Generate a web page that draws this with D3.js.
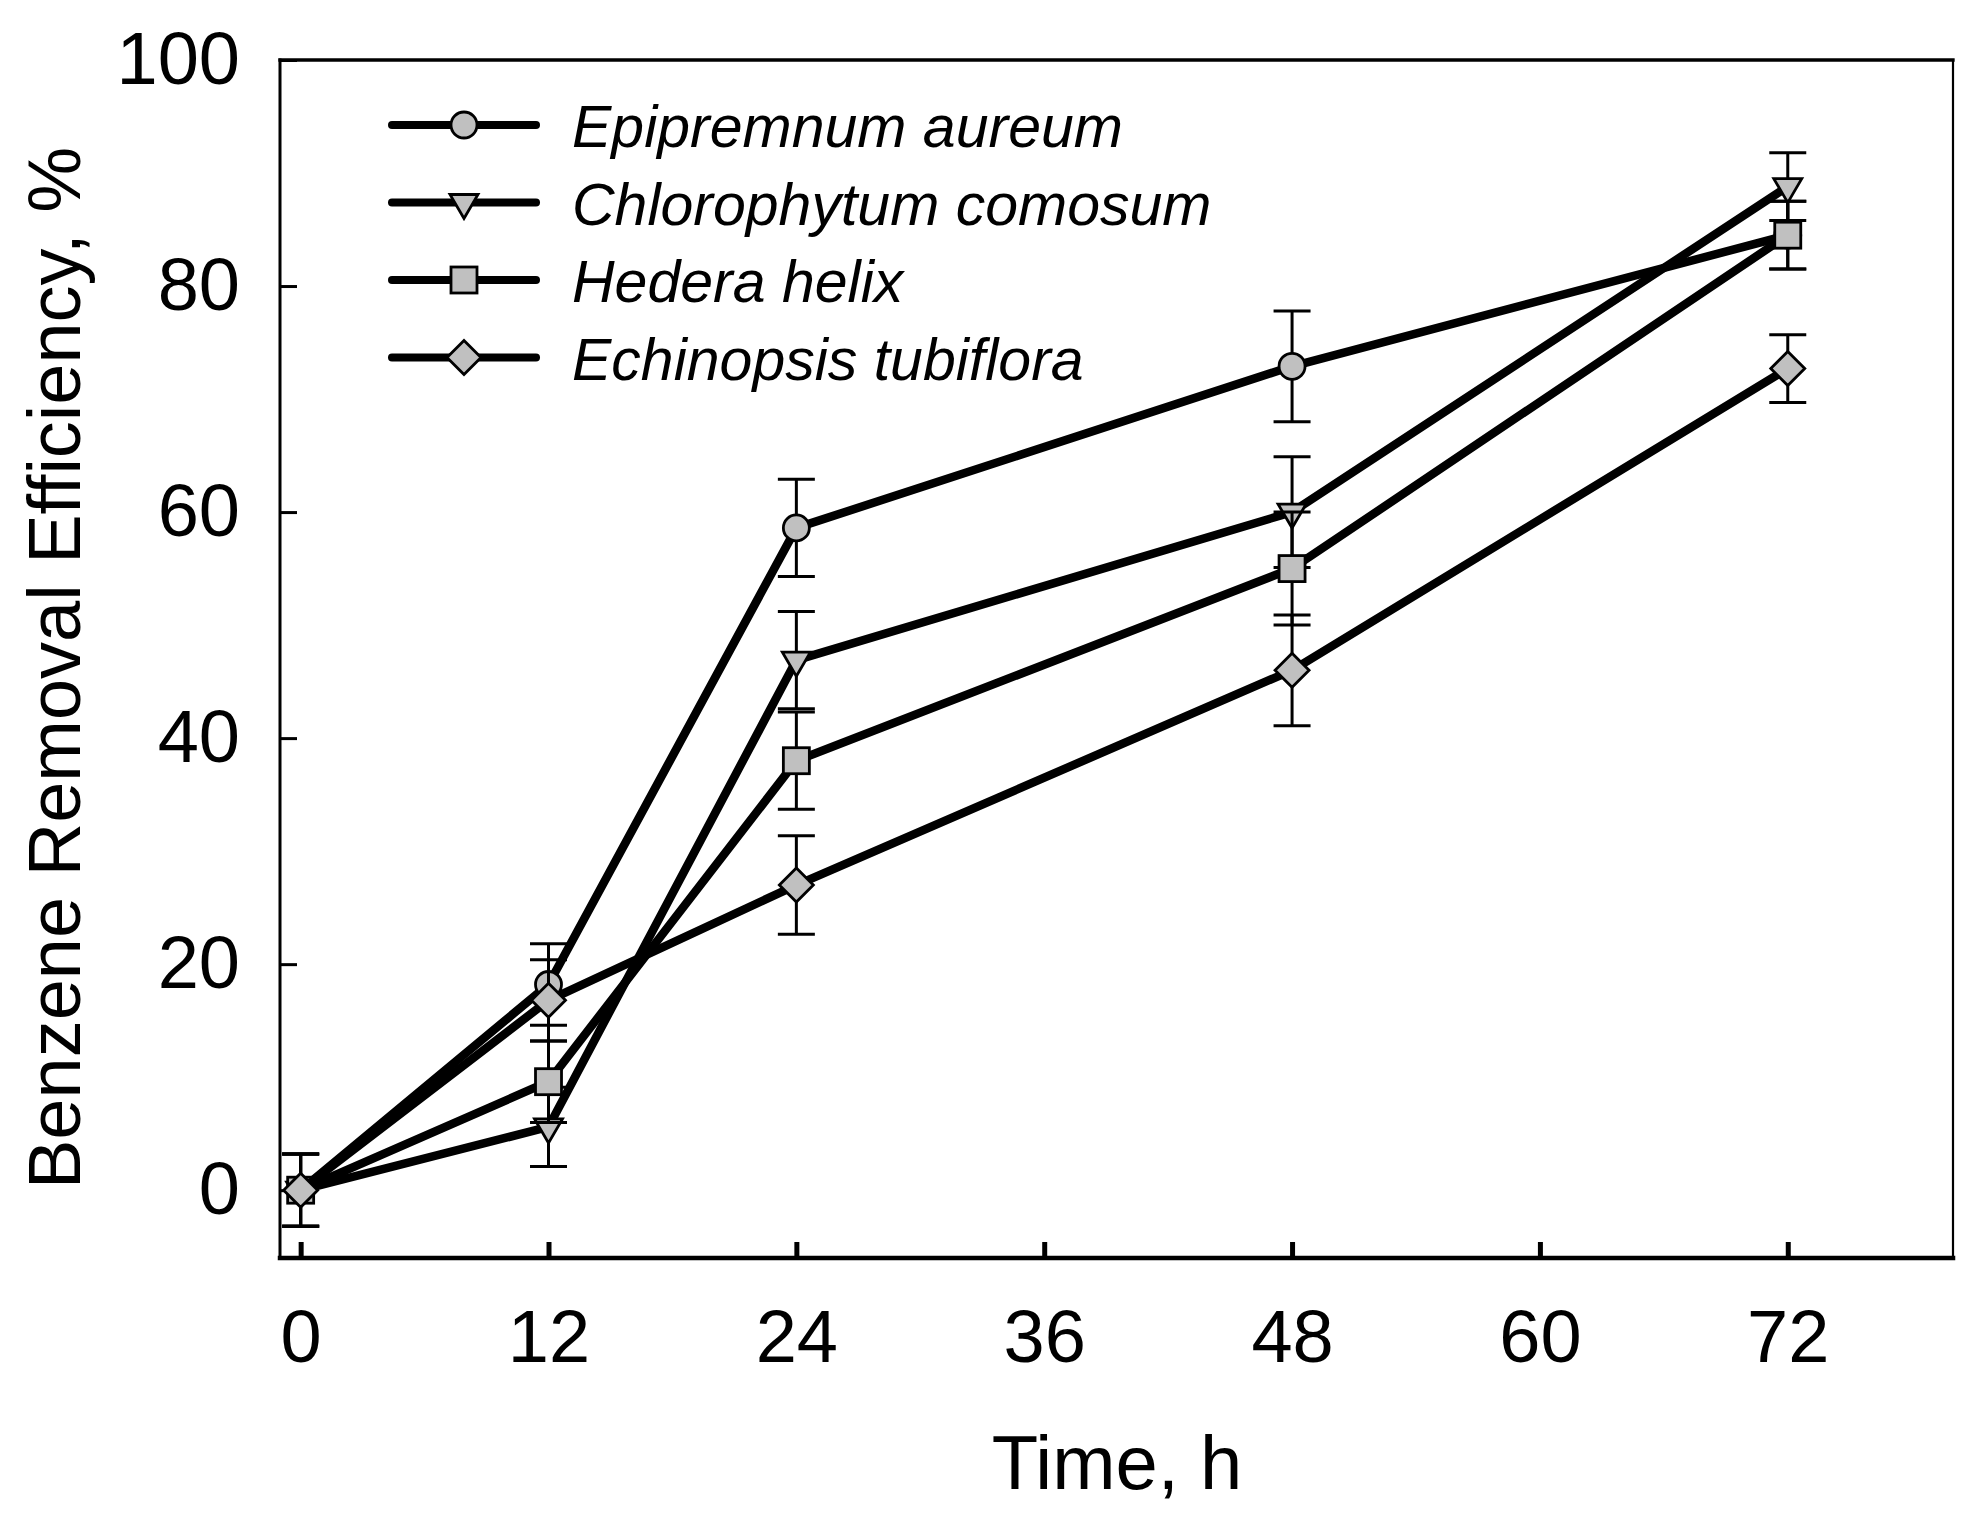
<!DOCTYPE html>
<meta charset="utf-8">
<script src="https://d3js.org/d3.v7.min.js"></script>
<style>
  body { margin: 0; background: #fff; }
  text { font-family: "Liberation Sans", Arial, sans-serif; fill: #000; }
</style>
<svg id="chart" width="1982" height="1531"></svg>
<script>
  // data
  const times = [0, 12, 24, 48, 72];
  const species = ["Epipremnum aureum", "Chlorophytum comosum", "Hedera helix", "Echinopsis tubiflora"];
  const symbols = ["circle", "triangle", "square", "diamond"];
  const epipremnum = [0, 18.2, 58.6, 72.9, 84.5];
  const epipremnumErr = [3.2, 3.6, 4.3, 4.9, 3.0];
  const chlorophytum = [0, 5.6, 46.9, 60.0, 88.8];
  const chlorophytumErr = [3.2, 3.5, 4.3, 4.9, 3.0];
  const hedera = [0, 9.6, 38.0, 55.0, 84.5];
  const hederaErr = [3.2, 3.6, 4.3, 5.0, 3.0];
  const echinopsis = [0, 16.8, 27.0, 46.0, 72.7];
  const echinopsisErr = [3.2, 3.6, 4.35, 4.9, 3.0];
  const xTicks = [0, 12, 24, 36, 48, 60, 72];
  const yTicks = [0, 20, 40, 60, 80, 100];

  const seriesValues = [epipremnum, chlorophytum, hedera, echinopsis];
  const seriesErrors = [epipremnumErr, chlorophytumErr, hederaErr, echinopsisErr];

  const svg = d3.select("#chart");
  const plotLeft = 280, plotRight = 1953, plotTop = 60, plotBottom = 1258;

  const x = d3.scaleLinear().domain([-1, 80]).range([plotLeft, plotRight]);
  const y = d3.scaleLinear().domain([-6, 100]).range([plotBottom, plotTop]);

  const fill = "#c0c0c0";

  // draw one marker at (0,0) inside g
  function marker(g, type) {
    if (type === "circle") {
      g.append("circle").attr("r", 13);
    } else if (type === "triangle") {
      g.append("path").attr("d", "M-14,-8L14,-8L0,16Z");
    } else if (type === "square") {
      g.append("rect").attr("x", -13).attr("y", -13).attr("width", 26).attr("height", 26);
    } else {
      g.append("path").attr("d", "M0,-17L17,0L0,17L-17,0Z");
    }
    g.selectAll("*")
      .attr("fill", fill)
      .attr("stroke", "#000")
      .attr("stroke-width", 2.8);
  }

  // axes: ticks + labels
  const fontSize = 74;

  const xAxis = svg.append("g")
    .attr("transform", `translate(0,${plotBottom})`)
    .call(d3.axisBottom(x).tickValues(xTicks).tickSize(-16).tickSizeOuter(0).tickPadding(51));
  xAxis.select(".domain").remove();
  xAxis.selectAll(".tick line").attr("stroke-width", 5);
  xAxis.selectAll(".tick text").style("font-size", fontSize + "px");

  const yAxis = svg.append("g")
    .attr("transform", `translate(${plotLeft},0)`)
    .call(d3.axisLeft(y).tickValues(yTicks).tickSize(-17).tickSizeOuter(0).tickPadding(40));
  yAxis.select(".domain").remove();
  yAxis.selectAll(".tick line").attr("stroke-width", 3);
  yAxis.selectAll(".tick text").style("font-size", fontSize + "px");

  // frame
  const frame = svg.append("g").attr("stroke", "#000").attr("stroke-linecap", "square");
  frame.append("line").attr("x1", plotLeft).attr("x2", plotRight).attr("y1", plotTop).attr("y2", plotTop).attr("stroke-width", 3.3);
  frame.append("line").attr("x1", plotLeft).attr("x2", plotLeft).attr("y1", plotTop).attr("y2", plotBottom).attr("stroke-width", 3);
  frame.append("line").attr("x1", plotRight).attr("x2", plotRight).attr("y1", plotTop).attr("y2", plotBottom).attr("stroke-width", 2.2);
  frame.append("line").attr("x1", plotLeft).attr("x2", plotRight).attr("y1", plotBottom).attr("y2", plotBottom).attr("stroke-width", 4.5);

  // series: error bars, line, markers
  const line = d3.line().x(d => x(d.t)).y(d => y(d.v));

  seriesValues.forEach((vals, i) => {
    const pts = times.map((t, j) => ({ t: t, v: vals[j], e: seriesErrors[i][j] }));
    const g = svg.append("g");

    const eb = g.append("g").attr("stroke", "#000").attr("stroke-width", 3);
    pts.forEach(p => {
      eb.append("line").attr("x1", x(p.t)).attr("x2", x(p.t))
        .attr("y1", y(p.v + p.e)).attr("y2", y(p.v - p.e));
      [p.v + p.e, p.v - p.e].forEach(v => {
        eb.append("line").attr("x1", x(p.t) - 18.5).attr("x2", x(p.t) + 18.5)
          .attr("y1", y(v)).attr("y2", y(v));
      });
    });

    g.append("path").datum(pts)
      .attr("d", line)
      .attr("fill", "none")
      .attr("stroke", "#000")
      .attr("stroke-width", 8.5)
      .attr("stroke-linejoin", "round");

    pts.forEach(p => {
      const m = g.append("g").attr("transform", `translate(${x(p.t)},${y(p.v)})`);
      marker(m, symbols[i]);
    });
  });

  // legend
  const legend = svg.append("g");
  species.forEach((name, i) => {
    const ly = 125 + i * 77.5;
    const row = legend.append("g").attr("transform", `translate(0,${ly})`);
    row.append("line").attr("x1", 392).attr("x2", 536).attr("y1", 0).attr("y2", 0)
      .attr("stroke", "#000").attr("stroke-width", 8).attr("stroke-linecap", "round");
    const m = row.append("g").attr("transform", "translate(464,0)");
    marker(m, symbols[i]);
    row.append("text").attr("x", 572).attr("y", 22)
      .style("font-size", "59px").style("font-style", "italic")
      .text(name);
  });

  // axis titles
  svg.append("text")
    .attr("x", 1117).attr("y", 1489)
    .attr("text-anchor", "middle")
    .style("font-size", "76px")
    .text("Time, h");

  svg.append("text")
    .attr("transform", "translate(80,668) rotate(-90)")
    .attr("text-anchor", "middle")
    .style("font-size", "74px")
    .text("Benzene Removal Efficiency, %");
</script>
